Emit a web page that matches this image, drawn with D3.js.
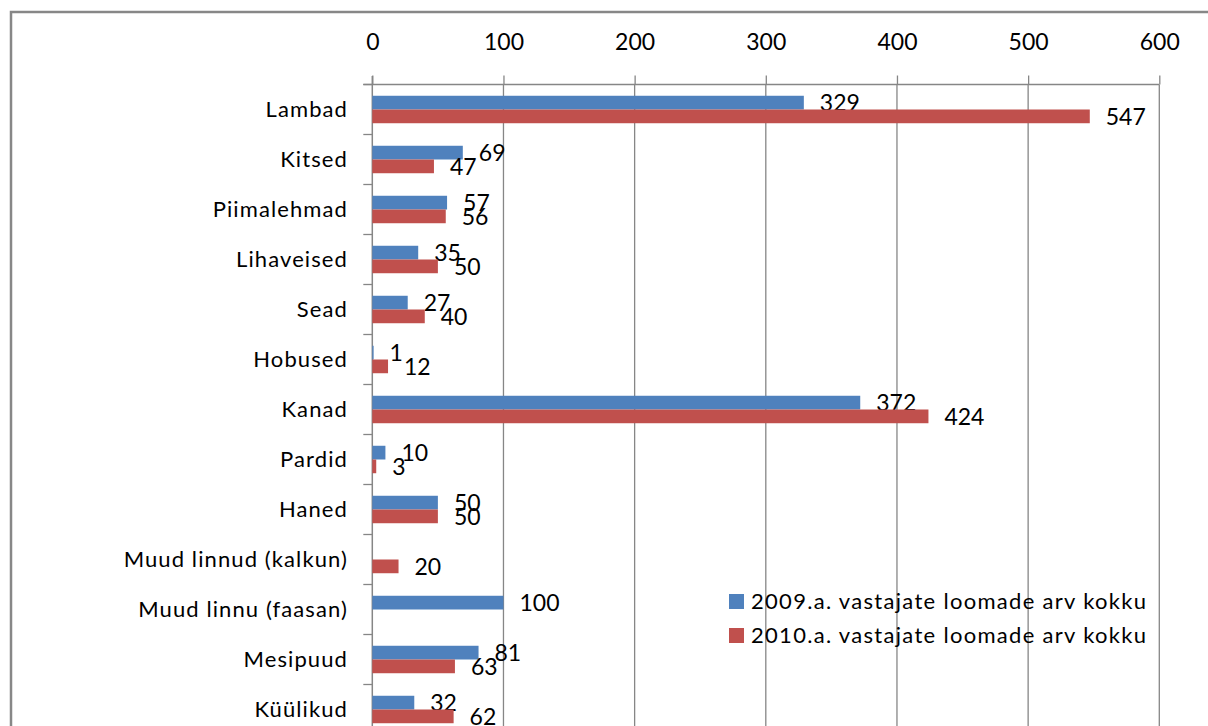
<!DOCTYPE html>
<html>
<head>
<meta charset="utf-8">
<script src="https://cdn.jsdelivr.net/npm/d3@7"></script>
<style>
  body { margin: 0; background: #fff; }
  svg { display: block; }
  text { font-family: Lato, "Open Sans", sans-serif; fill: #000; }
</style>
</head>
<body>
<svg id="chart" width="1208" height="726"></svg>
<script>
var categories = ['Lambad', 'Kitsed', 'Piimalehmad', 'Lihaveised', 'Sead', 'Hobused', 'Kanad',
  'Pardid', 'Haned', 'Muud linnud (kalkun)', 'Muud linnu (faasan)', 'Mesipuud', 'Küülikud'];
var values2009 = [329, 69, 57, 35, 27, 1, 372, 10, 50, null, 100, 81, 32];
var values2010 = [547, 47, 56, 50, 40, 12, 424, 3, 50, 20, null, 63, 62];
var seriesNames = ['2009.a. vastajate loomade arv kokku', '2010.a. vastajate loomade arv kokku'];
var seriesColors = ['#4F81BD', '#C0504D'];
var xTicks = [0, 100, 200, 300, 400, 500, 600];

var svg = d3.select('#chart');
var gridColor = '#868686';

// outer frame (runs off the right and bottom of the picture)
svg.append('rect')
  .attr('x', 11).attr('y', 12)
  .attr('width', 1240).attr('height', 760)
  .attr('fill', 'none')
  .attr('stroke', '#878787')
  .attr('stroke-width', 2.5);

var x = d3.scaleLinear().domain([0, 600]).range([372.3, 1159.3]);
var y = d3.scaleBand().domain(categories).range([84.5, 84.5 + 50 * categories.length]);
var ySub = d3.scaleBand().domain([0, 1]).range([0, y.bandwidth()]).paddingOuter(0.82);

var plotBottom = 740;

// vertical gridlines
svg.append('g')
  .selectAll('line')
  .data(xTicks.slice(1))
  .enter()
  .append('line')
  .attr('x1', function(d){ return x(d); })
  .attr('x2', function(d){ return x(d); })
  .attr('y1', 84.5)
  .attr('y2', plotBottom)
  .attr('stroke', gridColor)
  .attr('stroke-width', 1.3);

// top axis
var xAxis = d3.axisTop(x).tickValues(xTicks).tickSize(9).tickPadding(26);
var gx = svg.append('g').attr('transform', 'translate(0,84.5)').call(xAxis);
gx.select('.domain').attr('stroke', gridColor).attr('stroke-width', 1.3)
  .attr('d', 'M' + (x(0) - 9) + ',0H' + x(600));
gx.selectAll('.tick line').attr('stroke', gridColor).attr('stroke-width', 1.3);
gx.selectAll('.tick text').style('font-size', '23px').style('fill', '#000')
  .style('font-family', 'Lato, sans-serif');

// left axis line with ticks between categories
var ga = svg.append('g');
ga.append('line')
  .attr('x1', x(0)).attr('x2', x(0))
  .attr('y1', 76).attr('y2', plotBottom)
  .attr('stroke', gridColor).attr('stroke-width', 1.5);
ga.selectAll('line.cat-tick')
  .data(d3.range(categories.length + 1))
  .enter()
  .append('line')
  .attr('class', 'cat-tick')
  .attr('x1', x(0) - 9).attr('x2', x(0))
  .attr('y1', function(i){ return 84.5 + 50 * i; })
  .attr('y2', function(i){ return 84.5 + 50 * i; })
  .attr('stroke', gridColor).attr('stroke-width', 1.3);

// category labels
svg.append('g')
  .selectAll('text')
  .data(categories)
  .enter()
  .append('text')
  .attr('x', 348)
  .attr('y', function(d){ return y(d) + y.bandwidth() / 2; })
  .attr('dy', '0.36em')
  .attr('text-anchor', 'end')
  .style('font-size', '22px')
  .style('letter-spacing', '1.1px')
  .text(function(d){ return d; });

// bars + value labels
var allSeries = [values2009, values2010];
allSeries.forEach(function(vals, s){
  var pts = categories.map(function(c, i){ return {cat: c, v: vals[i]}; })
    .filter(function(d){ return d.v !== null; });

  svg.append('g')
    .selectAll('rect')
    .data(pts)
    .enter()
    .append('rect')
    .attr('x', x(0))
    .attr('y', function(d){ return y(d.cat) + ySub(s); })
    .attr('width', function(d){ return x(d.v) - x(0); })
    .attr('height', ySub.bandwidth())
    .attr('fill', seriesColors[s]);

  svg.append('g')
    .selectAll('text')
    .data(pts)
    .enter()
    .append('text')
    .attr('x', function(d){ return x(d.v) + 16; })
    .attr('y', function(d){ return y(d.cat) + ySub(s) + ySub.bandwidth() / 2; })
    .attr('dy', '0.36em')
    .style('font-size', '23px')
    .text(function(d){ return d.v; });
});

// legend
var legend = svg.append('g').attr('transform', 'translate(729,594)');
seriesNames.forEach(function(name, i){
  var row = legend.append('g').attr('transform', 'translate(0,' + (i * 34) + ')');
  row.append('rect').attr('width', 15).attr('height', 15).attr('fill', seriesColors[i]);
  row.append('text')
    .attr('x', 22).attr('y', 7.5).attr('dy', '0.36em')
    .style('font-size', '22px')
    .style('letter-spacing', '1.3px')
    .text(name);
});
</script>
</body>
</html>
